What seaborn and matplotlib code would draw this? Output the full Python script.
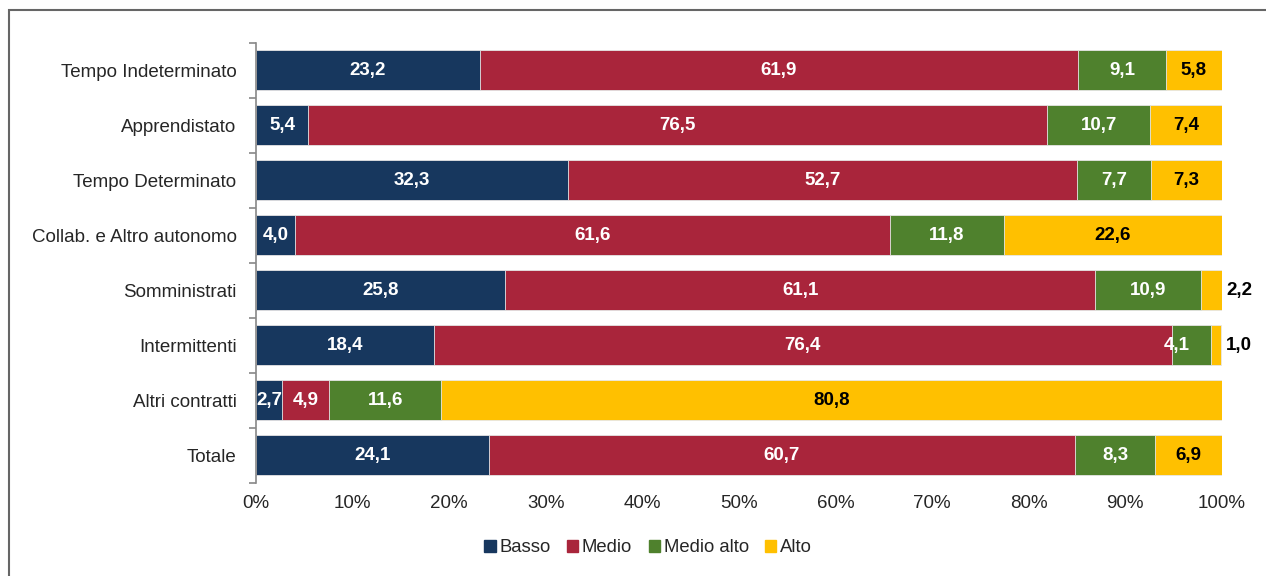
import numpy as np
import pandas as pd
import seaborn as sns
import matplotlib.pyplot as plt
from matplotlib.patches import Rectangle
from matplotlib.ticker import FixedLocator, PercentFormatter

categories = ['Tempo Indeterminato', 'Apprendistato', 'Tempo Determinato',
              'Collab. e Altro autonomo', 'Somministrati', 'Intermittenti',
              'Altri contratti', 'Totale']
basso = [23.2, 5.4, 32.3, 4.0, 25.8, 18.4, 2.7, 24.1]
medio = [61.9, 76.5, 52.7, 61.6, 61.1, 76.4, 4.9, 60.7]
medio_alto = [9.1, 10.7, 7.7, 11.8, 10.9, 4.1, 11.6, 8.3]
alto = [5.8, 7.4, 7.3, 22.6, 2.2, 1.0, 80.8, 6.9]

series = ['Basso', 'Medio', 'Medio alto', 'Alto']
colors = ['#17375E', '#A9253B', '#4F812D', '#FFC000']
text_colors = ['white', 'white', 'white', 'black']

sns.set_theme(style='white')
plt.rcParams['font.family'] = ['Liberation Sans', 'DejaVu Sans']

df = pd.DataFrame({'cat': categories, 'Basso': basso, 'Medio': medio,
                   'Medio alto': medio_alto, 'Alto': alto})
cum = df[series].cumsum(axis=1)

fig = plt.figure(figsize=(12.66, 5.76), dpi=100)
ax = fig.add_axes([0.2022, 0.1623, 0.7630, 0.7639])

# stacked bars: draw cumulative totals from the largest down
for s, c in reversed(list(zip(series, colors))):
    sns.barplot(x=cum[s], y=df['cat'], color=c, orient='h', width=0.72,
                edgecolor='#e8e8e8', linewidth=0.6, ax=ax, saturation=1)

for i in range(len(categories)):
    for j, s in enumerate(series):
        v = df.loc[i, s]
        end = cum.loc[i, s]
        mid = end - v / 2
        lab = f'{v:.1f}'.replace('.', ',')
        ha = 'center'
        col = text_colors[j]
        if s == 'Alto' and v < 3:
            mid = end + 0.5
            ha = 'left'
            col = 'black'
        elif s == 'Medio alto' and v < 5:
            mid = end - 2.2
            ha = 'right'
        ax.text(mid, i, lab, ha=ha, va='center', color=col,
                fontsize=13.5, fontweight='bold')

ax.set_xlim(0, 100)
ax.set_ylim(len(categories) - 0.5, -0.5)
ax.set_xticks(np.arange(0, 101, 10))
ax.xaxis.set_major_formatter(PercentFormatter(decimals=0))
ax.set_xlabel('')
ax.set_ylabel('')
ax.tick_params(axis='x', length=0, labelsize=13.5, pad=9)
ax.tick_params(axis='y', which='major', length=0, labelsize=13.5, pad=14)
ax.yaxis.set_minor_locator(FixedLocator(np.arange(-0.5, len(categories), 1)))
ax.tick_params(axis='y', which='minor', length=5, color='#888888', width=1.2,
               left=True, direction='out')
for side in ['top', 'right', 'bottom']:
    ax.spines[side].set_visible(False)
ax.spines['left'].set_color('#888888')
ax.spines['left'].set_linewidth(1.2)

handles = [Rectangle((0, 0), 1, 1, color=c) for c in colors]
fig.legend(handles, series, loc='center', bbox_to_anchor=(0.512, 0.049), ncol=4,
           frameon=False, fontsize=13.3, handlelength=0.6, handleheight=0.6,
           handletextpad=0.2, columnspacing=0.9)

fig.patches.append(Rectangle((9 / 1266, -0.1), 1.2, 1 - 10 / 576 + 0.1,
                             transform=fig.transFigure, fill=False,
                             edgecolor='#666666', linewidth=1.5))

fig.savefig('out.png', dpi=100)
